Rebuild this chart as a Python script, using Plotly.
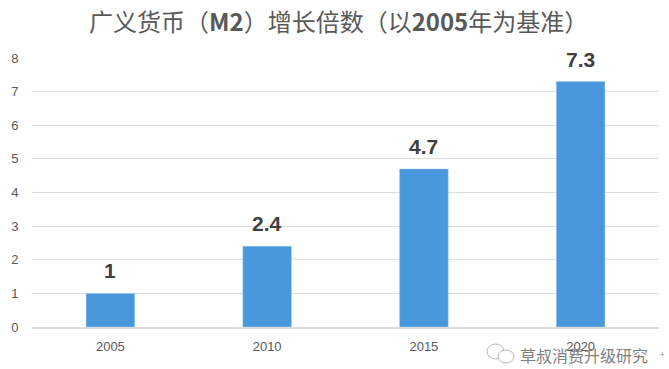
import plotly.graph_objects as go

categories = ["2005", "2010", "2015", "2020"]
values = [1, 2.4, 4.7, 7.3]
value_labels = ["1", "2.4", "4.7", "7.3"]
title_text = "广义货币（<b>M2</b>）增长倍数（以<b>2005</b>年为基准）"
watermark = "草叔消费升级研究"

W, H = 669, 369
L, R, T, B = 32, 659, 58, 327  # plot box in picture pixels

fig = go.Figure(go.Bar(
    x=categories, y=values,
    marker=dict(color="#4A98DC", line=dict(color="#9CC8EE", width=0.5)),
    width=0.31,
))

def px(x): return (x - L) / (R - L)
def py(y): return (B - y) / (B - T)

# On a category axis a numeric-looking label is read as an index, so place by index.
for i, (v, s) in enumerate(zip(values, value_labels)):
    fig.add_annotation(x=i, y=v, text=f"<b>{s}</b>", showarrow=False, yanchor="bottom", yshift=9,
                       font=dict(size=21, color="#404040", family="Liberation Sans"))

fig.add_annotation(text=title_text, x=px(338), y=py(21), xref="paper", yref="paper",
                   showarrow=False, xanchor="center", yanchor="middle",
                   font=dict(size=24, color="#595959", family="Noto Sans CJK SC"))
fig.add_annotation(text=watermark, x=px(518), y=py(355), xref="paper", yref="paper",
                   showarrow=False, xanchor="left", yanchor="middle",
                   font=dict(size=16, color="#808080", family="Noto Sans CJK SC"))
fig.add_annotation(text="+", x=px(667), y=py(361), xref="paper", yref="paper",
                   showarrow=False, font=dict(size=8, color="#808080"))
for x0, y0, x1, y1 in [(487, 344, 504, 359), (498, 350, 514, 363)]:
    fig.add_shape(type="circle", xref="paper", yref="paper", x0=px(x0), x1=px(x1), y0=py(y0), y1=py(y1),
                  line=dict(color="#B8B8B8", width=1), fillcolor="white", layer="above")

fig.update_layout(
    width=W, height=H, autosize=False, showlegend=False,
    paper_bgcolor="white", plot_bgcolor="white",
    margin=dict(l=L, r=W - R, t=T, b=H - B),
    xaxis=dict(type="category", categoryorder="array", categoryarray=categories, range=[-0.5, 3.5],
               showgrid=False, showline=True, linecolor="#DCDCDC", linewidth=1.5,
               ticks="outside", ticklen=7, tickcolor="rgba(0,0,0,0)",
               tickfont=dict(size=13, color="#595959", family="Liberation Sans")),
    yaxis=dict(range=[0, 8], dtick=1, gridcolor="#DEDEDE", gridwidth=1.3, zeroline=False,
               ticks="outside", ticklen=10, tickcolor="rgba(0,0,0,0)",
               tickfont=dict(size=13, color="#595959", family="Liberation Sans")),
)
fig.write_html("out.html", config={"displayModeBar": False},
               post_script="document.body.style.margin='0';document.body.style.overflow='hidden';")
